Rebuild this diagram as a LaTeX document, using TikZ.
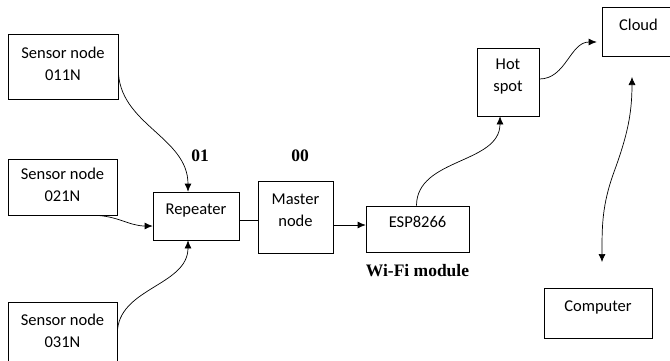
\documentclass[tikz,border=0pt]{standalone}
\usepackage{fontspec}
\setmainfont{Carlito}
\newfontfamily\capfont{Liberation Serif}
\usetikzlibrary{positioning,shapes,arrows.meta}
\tikzstyle{block} = [draw, rectangle, inner sep=0pt, align=center, line width=0.7pt, font=\fontsize{16.5}{22}\selectfont, text depth=14pt]
\tikzstyle{sensor} = [block, text depth=5pt]
\tikzstyle{tag} = [font=\capfont\bfseries\fontsize{17.5}{20}\selectfont]
\tikzstyle{link} = [line width=0.7pt]

\begin{document}
\begin{tikzpicture}[x=1pt, y=1pt, >={Latex[length=8pt,width=7pt]}]
		\useasboundingbox (0,0) rectangle (670,360);
		\node (s1) [sensor, minimum width=110pt, minimum height=65pt] at (63,293.5) {Sensor node\\011N};
		\node (s2) [sensor, minimum width=109pt, minimum height=56pt] at (62.5,173) {Sensor node\\021N};
		\node (s3) [sensor, minimum width=109pt, minimum height=63pt] at (62.5,26.5) {Sensor node\\031N};
		\node (rep) [block, minimum width=86pt, minimum height=48pt] at (196,144) {Repeater};
		\node (mas) [block, minimum width=75pt, minimum height=72pt] at (295.5,143) {Master\\node};
		\node (esp) [block, minimum width=103pt, minimum height=46pt] at (417.5,131) {ESP8266};
		\node (hot) [block, minimum width=62pt, minimum height=68pt] at (508,278) {Hot\\spot};
		\node (cloud) [block, minimum width=73pt, minimum height=49pt] at (638.5,328.5) {Cloud};
		\node (pc) [block, minimum width=108pt, minimum height=50pt] at (598,47) {Computer};
		\node (t01) [tag] at (200,204) {01};
		\node (t00) [tag] at (300,204) {00};
		\node (wifi) [tag, below=8pt of esp] {Wi-Fi module};
		\coordinate (up) at (632,283);
		\coordinate (dn) at (602,98);

		\draw [link, ->] ([yshift=-3pt]s1.east) to[out=-90, in=90] ([xshift=-8pt]rep.north);
		\draw [link, ->] ([xshift=-24pt]s2.south east) to[out=0, in=180] ([yshift=-10pt]rep.west);
		\draw [link, ->] (s3.east) to[out=90, in=-90] ([xshift=-8pt]rep.south);

		\draw [link] ([yshift=-4pt]rep.east) -- ([yshift=-4pt]rep.east -| mas.west);
		\draw [link, ->] ([yshift=4pt]esp.west -| mas.east) -- ([yshift=4pt]esp.west);

		\draw [link, ->] ([xshift=-1pt]esp.north) to[out=90, in=-90] ([xshift=-8pt]hot.south);
		\draw [link, ->] ([yshift=3pt]hot.east) to[out=0, in=180] ([xshift=-5pt, yshift=-10.5pt]cloud.west);
		\draw [link, <->] (up) to[out=-90, in=70] (614,188) to[out=-110, in=90] (dn);
	\end{tikzpicture}
\end{document}
